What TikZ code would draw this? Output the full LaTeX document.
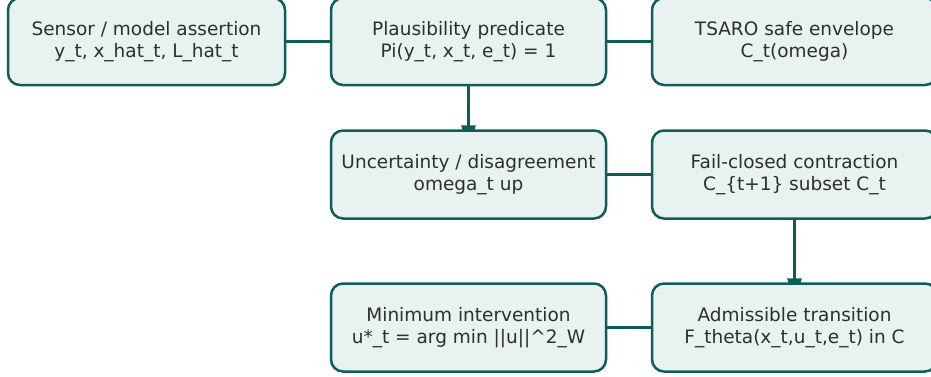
\documentclass[tikz,border=0pt]{standalone}
\usepackage{fontspec}
\setmainfont{DejaVu Sans}
\usetikzlibrary{backgrounds,arrows.meta}
\definecolor{edgeteal}{HTML}{0F5E56}
\definecolor{boxfill}{HTML}{E8F3F1}
\definecolor{txt}{HTML}{2E2E2E}
\begin{document}
\begin{tikzpicture}[x=1pt,y=-1pt,
  stagebox/.style={draw=edgeteal, fill=boxfill, line width=2.5pt,
    rounded corners=12pt, minimum height=87pt, inner sep=0pt,
    text=txt, align=center, font=\fontsize{18.5}{22}\selectfont},
  link/.style={draw=edgeteal, line width=3pt},
  flow/.style={link, -{Triangle[width=14pt,length=24pt]}}]
\useasboundingbox (0,0) rectangle (931,376);
\clip (0,0) rectangle (931,376);

% top row
\node[stagebox, minimum width=277pt] (sensor) at (146.5,41.5)
  {Sensor / model assertion\\y\_t, x\_hat\_t, L\_hat\_t};
\node[stagebox, minimum width=275pt] (plaus) at (468.5,41.5)
  {Plausibility predicate\\Pi(y\_t, x\_t, e\_t) = 1};
\node[stagebox, minimum width=285pt] (envelope) at (794.5,41.5)
  {TSARO safe envelope\\C\_t(omega)};

% middle row
\node[stagebox, minimum width=275pt, minimum height=88pt] (uncert) at (468.5,174.5)
  {Uncertainty / disagreement\\omega\_t up};
\node[stagebox, minimum width=285pt, minimum height=88pt] (contract) at (794.5,174.5)
  {Fail-closed contraction\\C\_\{t+1\} subset C\_t};

% bottom row
\node[stagebox, minimum width=275pt, minimum height=88pt] (minint) at (468.5,327.5)
  {Minimum intervention\\u*\_t = arg min ||u||\textasciicircum 2\_W};
\node[stagebox, minimum width=285pt, minimum height=88pt] (admiss) at (794.5,327.5)
  {Admissible transition\\F\_theta(x\_t,u\_t,e\_t) in C};

% connectors sit behind the boxes
\begin{scope}[on background layer]
  \draw[link] (sensor) -- (plaus);
  \draw[link] (plaus) -- (envelope);
  \draw[link] (uncert) -- (contract);
  \draw[link] (minint) -- (admiss);
  \draw[flow] (plaus.south) -- ([yshift=-20pt]uncert.north);
  \draw[flow] (contract.south) -- ([yshift=-20pt]admiss.north);
\end{scope}
\end{tikzpicture}
\end{document}
